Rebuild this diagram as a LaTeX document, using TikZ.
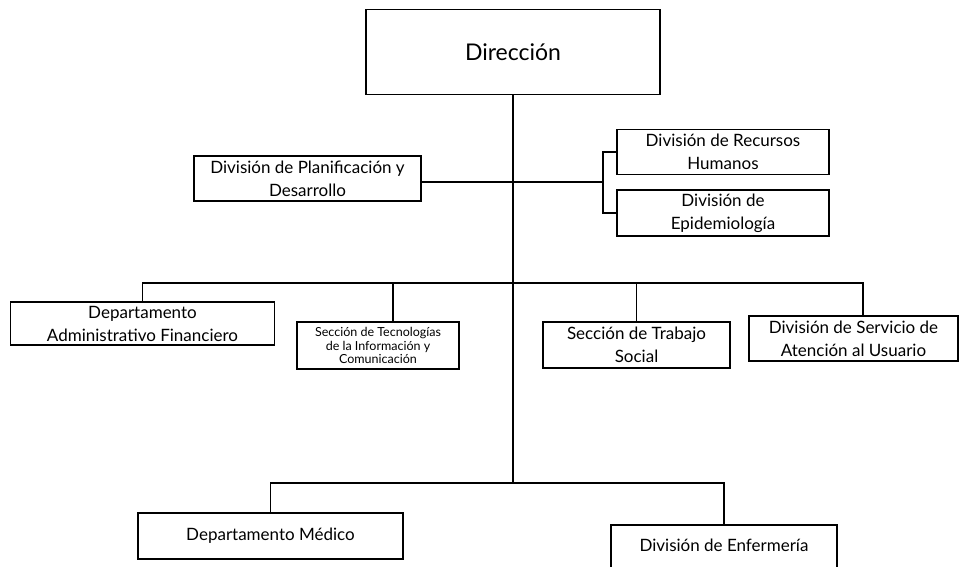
\documentclass[tikz,border=0pt]{standalone}
\usepackage{fontspec}
\setmainfont{Lato}
\begin{document}
\begin{tikzpicture}[x=1pt,y={(0pt,-1pt)},
  box/.style={draw, line width=1.5pt, rectangle, inner sep=0pt, align=center,
    font=\fontsize{17}{23}\selectfont},
  small/.style={font=\fontsize{12.5}{13.5}\selectfont},
  conn/.style={line width=1.5pt}]
\useasboundingbox (0,0) rectangle (967,567);
\clip (0,0) rectangle (967,567);
\fill[white] (0,0) rectangle (967,567);
% boxes
\node[box, minimum width=294pt, minimum height=85pt, font=\fontsize{23}{26}\selectfont] (dir) at (513,52) {Dirección};
\node[box, minimum width=227pt, minimum height=45pt] (plan) at (307.5,178.5) {División de Planificación y\\Desarrollo};
\node[box, minimum width=212pt, minimum height=45pt] (rh) at (723,152) {División de Recursos\\Humanos};
\node[box, minimum width=212pt, minimum height=46pt] (epi) at (723,213) {División de\\Epidemiología};
\node[box, minimum width=264pt, minimum height=43pt] (adm) at (142.5,323.5) {Departamento\\Administrativo Financiero};
\node[box, small, minimum width=162pt, minimum height=47pt] (tic) at (378,345.5) {Sección de Tecnologías\\de la Información y\\Comunicación};
\node[box, minimum width=187pt, minimum height=46pt] (ts) at (636.5,345) {Sección de Trabajo\\Social};
\node[box, minimum width=209pt, minimum height=45pt] (atn) at (853.5,338.5) {División de Servicio de\\Atención al Usuario};
\node[box, minimum width=265pt, minimum height=46pt] (med) at (270.5,536) {Departamento Médico};
\node[box, minimum width=226pt, minimum height=50pt, text depth=0pt] (enf) at (724,550) {\raisebox{10pt}{División de Enfermería}};
% coordinates
\coordinate (s1) at (513,182);
\coordinate (s2) at (513,283);
\coordinate (s3) at (513,483);
\coordinate (brk) at (603,182);
\coordinate (ticc) at (393,283);
\coordinate (atnc) at (863,283);
% connectors
\draw[conn] (dir.south) -- (s3);
\draw[conn] (plan.east |- s1) -- (brk);
\draw[conn] (rh.west) -| (brk) |- (epi.west);
\draw[conn] (adm.north) |- (atnc) -- (atnc |- atn.north);
\draw[conn] (ticc) -- (ticc |- tic.north);
\draw[conn] (ts.north |- s2) -- (ts.north);
\draw[conn] (med.north) |- (s3) -| (enf.north);
\end{tikzpicture}
\end{document}
